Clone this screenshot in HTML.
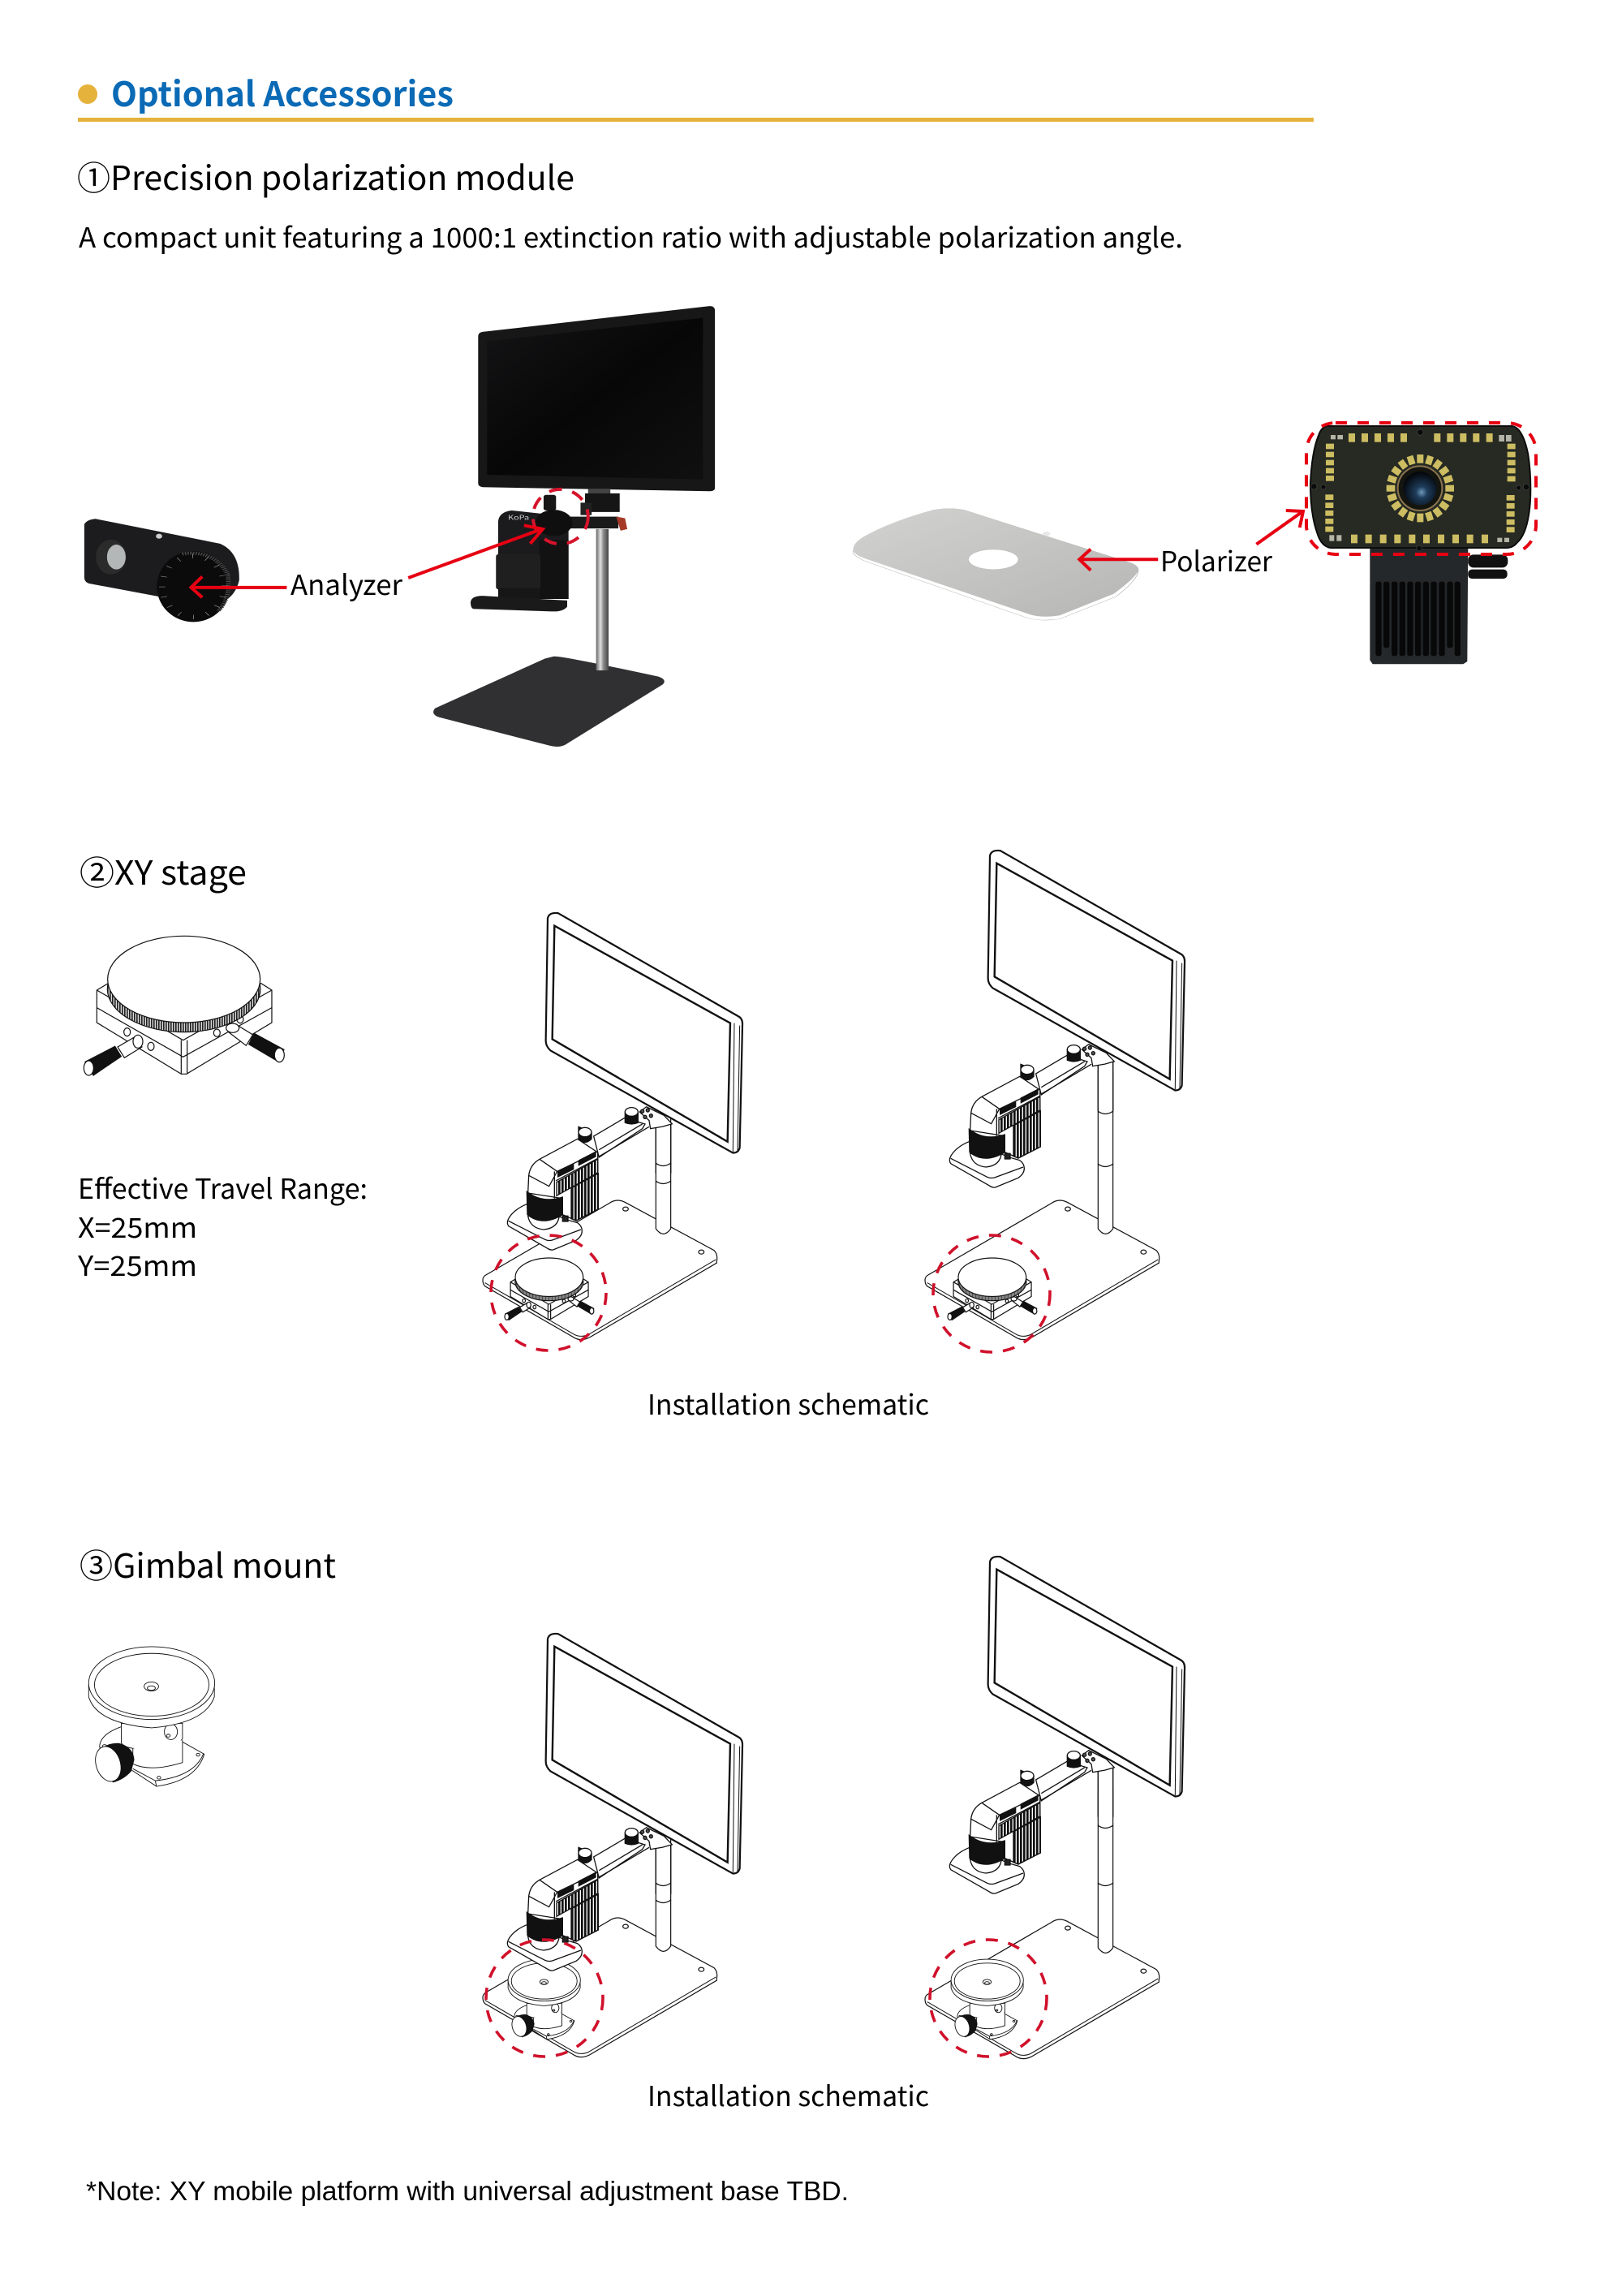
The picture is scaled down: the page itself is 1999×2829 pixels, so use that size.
<!DOCTYPE html>
<html><head><meta charset="utf-8"><title>Optional Accessories</title>
<style>
html,body{margin:0;padding:0;background:#fff;width:1999px;height:2829px;overflow:hidden}
svg{display:block}
text{font-family:"Noto Sans CJK SC","Liberation Sans",sans-serif;fill:#000}
.la *{vector-effect:non-scaling-stroke}
.r *{vector-effect:non-scaling-stroke}
</style></head><body>
<svg xmlns="http://www.w3.org/2000/svg" width="1999" height="2829" viewBox="0 0 1999 2829">
<defs>
<linearGradient id="scr" x1="0" y1="0" x2="1" y2="1"><stop offset="0" stop-color="#141416"/><stop offset=".5" stop-color="#070707"/><stop offset="1" stop-color="#101010"/></linearGradient>
<linearGradient id="pole" x1="0" y1="0" x2="1" y2="0"><stop offset="0" stop-color="#666"/><stop offset=".35" stop-color="#e0e0e0"/><stop offset=".6" stop-color="#888"/><stop offset="1" stop-color="#444"/></linearGradient>
<linearGradient id="plate" x1="0" y1="0" x2="1" y2="1"><stop offset="0" stop-color="#d2d2d0"/><stop offset="1" stop-color="#b6b6b4"/></linearGradient>
<radialGradient id="lens" cx=".55" cy=".62" r=".6"><stop offset="0" stop-color="#6e97b8"/><stop offset=".28" stop-color="#1f3d5c"/><stop offset=".8" stop-color="#0a1420"/><stop offset="1" stop-color="#05070a"/></radialGradient>
<pattern id="st" width="12" height="10" patternUnits="userSpaceOnUse"><rect width="12" height="10" fill="#fff"/><rect width="8" height="10" fill="#111"/></pattern>
<pattern id="kn" width="9" height="10" patternUnits="userSpaceOnUse"><rect width="9" height="10" fill="#ddd"/><rect width="5" height="10" fill="#222"/></pattern>

<g id="stage" class="la" stroke="#111" stroke-width="1.2" fill="#fff">
 <polygon points="178,540 220,515 785,515 825,540 825,660 510,850 490,850 178,660"/>
 <path d="M178,540 L497,725 L825,540 M178,605 L497,787 L825,605 M490,725 V850 M512,725 V850" fill="none"/>
 <ellipse cx="290" cy="695" rx="12" ry="15"/><ellipse cx="378" cy="748" rx="12" ry="15"/><ellipse cx="622" cy="698" rx="12" ry="14"/><ellipse cx="708" cy="648" rx="12" ry="14"/>
 <ellipse cx="500" cy="535" rx="283" ry="160" fill="url(#kn)"/>
 <ellipse cx="500" cy="500" rx="282" ry="160"/>
 <polygon points="255,750 320,712 345,750 280,790"/>
 <ellipse cx="330" cy="730" rx="18" ry="24"/>
 <polygon points="135,805 245,748 268,785 165,855" fill="#111"/>
 <ellipse cx="148" cy="828" rx="18" ry="27"/>
 <polygon points="665,695 690,665 755,705 730,745"/>
 <ellipse cx="680" cy="680" rx="24" ry="17"/>
 <polygon points="740,740 760,700 870,760 850,805" fill="#111"/>
 <ellipse cx="853" cy="780" rx="18" ry="26"/>
</g>

<g id="gimbal" class="la" stroke="#111" stroke-width=".9" fill="#fff">
 <g transform="translate(70,2020) scale(.4464,.3448)">
 <path d="M178,312 Q118,340 118,385 L210,470 L275,525 Q385,505 407,410 L345,365 Z"/>
 <path d="M275,525 L272,505 L210,462 M272,505 Q380,490 405,408"  fill="none"/>
 <circle cx="132" cy="382" r="6"/><circle cx="282" cy="494" r="5"/><circle cx="390" cy="412" r="5"/>
 <path d="M178,300 V370 Q190,395 260,392 Q330,388 347,355 V300 Z"/>
 <path d="M210,390 V445 Q260,475 347,440 V360" />
 <ellipse cx="315" cy="330" rx="18" ry="28"/>
 <circle cx="308" cy="344" r="5"/>
 <path d="M88,160 V205 Q110,300 262,316 Q410,300 435,205 V160 Z"/>
 <ellipse cx="262" cy="156" rx="174" ry="130"/>
 <ellipse cx="262" cy="162" rx="158" ry="112"/>
 <ellipse cx="261" cy="168" rx="20" ry="16"/><ellipse cx="261" cy="174" rx="11" ry="8"/>
 <path d="M120,395 Q140,370 172,372 Q210,385 213,430 L205,470 Q185,500 155,510 Z" fill="#111"/>
 <ellipse cx="142" cy="445" rx="34" ry="63" transform="rotate(-10 142 445)"/>
 </g>
</g>

<g id="base" class="la" stroke="#111" stroke-width="1.2" fill="#fff">
 <g transform="translate(1120,1030) scale(.3333,.4209)">
 <path d="M60,1300 Q60,1290 72,1285 L528,1075 Q555,1060 585,1072 L915,1213 Q930,1225 925,1245 L925,1250 L455,1468 Q420,1482 392,1466 L68,1318 Q60,1312 60,1300 Z"/>
 <path d="M68,1308 L395,1458 Q420,1470 450,1460 L922,1240" fill="none" stroke-width="1"/>
 <ellipse cx="588" cy="1092" rx="10" ry="6"/><ellipse cx="868" cy="1218" rx="10" ry="6"/>
 <path d="M700,689 V1150 Q728,1180 755,1150 V689"/>
 </g>
</g>

<g id="upper" class="la" stroke="#111" stroke-width="1.3" fill="#fff">
 <g transform="translate(1120,1030) scale(.3333,.4209)">
 <path d="M700,660 V805 M755,660 V805" fill="none"/>
 <rect x="700" y="660" width="55" height="145" stroke="none"/>
 <path d="M700,660 V805 M755,660 V805" fill="none"/>
 <path d="M300,58 Q305,40 338,43 L1005,345 Q1022,352 1020,372 L1010,730 Q1005,745 985,745 L310,445 Q292,432 293,415 Z" stroke-width="2.2"/>
 <path d="M325,80 L975,365 L965,712 L317,412 Z" stroke-width="2.4"/>
 <path d="M990,365 L985,742 M1010,372 L1002,742 M342,45 L1012,350" fill="none" stroke-width="1"/>
 <path d="M640,625 L665,610 L730,635 L760,660 L725,668 L680,674 L675,650 Z"/>
 <ellipse cx="650" cy="623" rx="6" ry="5" fill="#555"/><ellipse cx="670" cy="620" rx="6" ry="5" fill="#555"/><ellipse cx="660" cy="640" rx="6" ry="5" fill="#555"/><ellipse cx="682" cy="636" rx="6" ry="5" fill="#555"/>
 </g>
 <g transform="translate(1145,1243) scale(.3333)">
 <path d="M395,240 L510,172 L585,195 L575,212 L415,318 Z"/>
 <path d="M415,290 L575,195 M415,315 L600,205" fill="none"/>
 <path d="M511,150 V190 Q535,200 559,190 V150 Z" fill="#111"/><ellipse cx="535" cy="150" rx="24" ry="16"/>
 <path d="M80,545 Q100,510 150,490 L300,550 L335,560 Q352,572 352,590 Q352,610 330,625 L245,660 Q235,662 225,655 L80,572 Q72,560 80,545 Z"/>
 <path d="M80,553 L215,622 Q228,628 242,624 L348,585" fill="none"/>
 <path d="M155,385 Q160,345 195,325 L335,250 L410,300 L412,510 L330,552 L280,530 V470 L152,450 Z"/>
 <path d="M195,325 L260,370 L405,300 M155,385 L230,425 L260,370 M255,405 L410,322 M250,370 V470" fill="none"/>
 <path d="M258,410 L410,325 V375 L258,460 Z" fill="url(#st)"/>
 <path d="M312,432 L412,378 V510 L330,552 L312,545 Z" fill="url(#st)"/>
 <path d="M263,372 L320,345 V362 L263,390 Z M340,330 L402,298 V315 L340,347 Z" fill="#111"/>
 <path d="M152,535 Q160,580 210,585 Q265,580 268,530 Z"/>
 <path d="M148,445 Q205,490 280,465 V530 Q205,575 150,530 Z" fill="#111"/>
 <rect x="280" y="535" width="20" height="20" fill="#222"/>
 <path d="M339,205 V250 Q363,275 387,250 V225 Z" fill="#111"/><ellipse cx="363" cy="225" rx="24" ry="17"/>
 </g>
</g>
</defs>

<rect width="1999" height="2829" fill="#fff"/>

<circle cx="108" cy="116" r="12" fill="#e5b33c"/>
<text x="137" y="131" font-size="42" font-weight="700" style="fill:#0a6ab5" textLength="422" lengthAdjust="spacingAndGlyphs">Optional Accessories</text>
<rect x="96" y="145" width="1523" height="5" fill="#e5b33c"/>

<text x="95" y="234" font-size="41" textLength="613" lengthAdjust="spacingAndGlyphs">①Precision polarization module</text>
<text x="97" y="305" font-size="34" textLength="1361" lengthAdjust="spacingAndGlyphs">A compact unit featuring a 1000:1 extinction ratio with adjustable polarization angle.</text>

<g transform="translate(60,340) scale(.5485,.3827)">
 <path d="M105,782 L385,862 Q430,890 428,980 Q415,1060 350,1060 L90,990 Q80,985 80,970 L80,800 Q85,785 105,782 Z" fill="#1c1c1e"/>
 <ellipse cx="325" cy="1000" rx="82" ry="114" fill="#0b0b0b"/>
 <path d="M300,895 Q370,880 402,960 Q410,1040 380,1080" fill="none" stroke="#4a4a4a" stroke-width="10" stroke-dasharray="3 3"/>
 <ellipse cx="325" cy="1000" rx="70" ry="98" fill="none" stroke="#ddd" stroke-width="14" stroke-dasharray="1 32"/>
 <ellipse cx="140" cy="905" rx="34" ry="56" fill="#2b2b2b"/>
 <ellipse cx="152" cy="905" rx="21" ry="40" fill="#b4b7b7"/>
 <ellipse cx="248" cy="838" rx="7" ry="8" fill="#ccc"/>
 <path d="M1135,1225 Q1150,1222 1370,1290 Q1390,1300 1380,1315 L1160,1510 Q1145,1520 1125,1512 L875,1420 Q858,1410 868,1392 L1115,1232 Z" fill="#303032"/>
 <rect x="1230" y="815" width="28" height="455" fill="url(#pole)"/>
 <path d="M975,180 L1485,97 Q1497,97 1497,112 L1497,682 Q1497,693 1485,693 L975,680 Q965,678 965,668 L965,192 Q966,182 975,180 Z" fill="#171718"/>
 <polygon points="985,210 1470,135 1470,655 985,640" fill="url(#scr)"/>
 <rect x="1212" y="685" width="50" height="20" fill="#444"/>
 <rect x="1205" y="700" width="78" height="60" fill="#151515"/>
 <rect x="1195" y="730" width="25" height="40" fill="#222"/>
 <rect x="1165" y="775" width="115" height="38" fill="#1a1a1a"/>
 <polygon points="1275,775 1295,780 1300,815 1285,820" fill="#a53a28"/>
 <path d="M1010,790 Q1012,760 1040,755 L1168,775 V1040 H1010 Z" fill="#1b1b1d"/>
 <rect x="1102" y="850" width="66" height="190" fill="#121212"/>
 <rect x="1112" y="705" width="28" height="50" rx="6" fill="#161616"/>
 <ellipse cx="1135" cy="795" rx="42" ry="42" fill="#0f0f0f"/>
 <rect x="1005" y="895" width="100" height="115" rx="8" fill="#1f1f20"/>
 <rect x="1010" y="1005" width="90" height="32" fill="#161616"/>
 <path d="M948,1050 Q950,1030 975,1030 L1165,1045 V1065 Q1155,1082 1130,1080 L955,1072 Q948,1070 948,1050 Z" fill="#1a1a1b"/>
 <text x="1032" y="785" font-size="20" style="fill:#ccc">KoPa</text>
 <g class="r" fill="none" stroke="#e60012">
  <ellipse cx="1150" cy="775" rx="62" ry="88" stroke="#d6132c" stroke-width="4" stroke-dasharray="16 13"/>
  <path d="M535,1003 H322 M345,968 L320,1003 L345,1035" stroke-width="4"/>
  <path d="M808,972 L1108,815 M1068,803 L1110,815 L1082,862" stroke-width="4"/>
 </g>
</g>
<text x="358" y="733" font-size="34" textLength="138" lengthAdjust="spacingAndGlyphs">Analyzer</text>

<g transform="translate(1000,480) scale(.606,.3333)">
 <path d="M85,600 Q85,615 110,635 L440,845 Q470,858 505,848 L620,765 Q665,700 665,668 Q665,650 648,640 L310,445 Q280,435 250,445 Q165,485 110,545 Q85,575 85,600 Z" fill="#fff" stroke="#999" stroke-width="1"/>
 <path d="M85,590 Q85,610 110,625 L445,832 Q470,845 505,835 L615,755 Q660,695 665,668 Q665,650 648,640 L310,445 Q280,435 250,445 Q165,485 110,540 Q85,565 85,590 Z" fill="url(#plate)"/>
 <ellipse cx="370" cy="628" rx="51" ry="37" fill="#fff" stroke="#aaa"/>
 <circle cx="478" cy="533" r="8" fill="#e8e8e8"/>
 <g class="r" fill="none" stroke="#e60012" stroke-width="4">
  <path d="M705,628 H548 M568,590 L545,628 L568,668"/>
  <path d="M905,572 L998,452 M965,447 L1000,450 L993,510"/>
 </g>
</g>
<text x="1430" y="704" font-size="34" textLength="138" lengthAdjust="spacingAndGlyphs">Polarizer</text>

<g transform="translate(1600,500) scale(.3333)">
 <rect x="628" y="550" width="147" height="48" rx="20" fill="#111"/>
 <rect x="628" y="605" width="145" height="34" rx="14" fill="#111"/>
 <polygon points="265,525 628,525 625,945 610,955 275,955 265,940" fill="#25282b"/>
 <g fill="#080808">
  <rect x="286" y="650" width="22" height="275" rx="8"/><rect x="315" y="650" width="22" height="245" rx="8"/><rect x="345" y="650" width="22" height="275" rx="8"/><rect x="374" y="650" width="22" height="275" rx="8"/><rect x="403" y="650" width="22" height="275" rx="8"/><rect x="432" y="650" width="22" height="275" rx="8"/><rect x="461" y="650" width="22" height="275" rx="8"/><rect x="490" y="650" width="22" height="275" rx="8"/><rect x="520" y="650" width="22" height="275" rx="8"/><rect x="550" y="650" width="22" height="245" rx="8"/><rect x="578" y="650" width="22" height="275" rx="8"/>
 </g>
 <path d="M105,75 L790,75 Q830,80 850,180 Q862,260 858,350 Q850,470 810,505 Q795,525 770,525 L120,525 Q85,520 70,470 Q45,400 45,290 Q50,170 75,110 Q85,80 105,75 Z" fill="#272a23" stroke="#0c0c0c" stroke-width="6"/>
 <g fill="#cdbd62">
  <rect x="186" y="102" width="24" height="32"/><rect x="234" y="102" width="24" height="32"/><rect x="282" y="102" width="24" height="32"/><rect x="330" y="102" width="24" height="32"/><rect x="378" y="102" width="24" height="32"/>
  <rect x="502" y="102" width="24" height="32"/><rect x="550" y="102" width="24" height="32"/><rect x="598" y="102" width="24" height="32"/><rect x="646" y="102" width="24" height="32"/><rect x="695" y="102" width="24" height="32"/>
  <rect x="195" y="476" width="24" height="32"/><rect x="248" y="476" width="24" height="32"/><rect x="302" y="476" width="24" height="32"/><rect x="355" y="476" width="24" height="32"/><rect x="409" y="476" width="24" height="32"/><rect x="462" y="476" width="24" height="32"/><rect x="516" y="476" width="24" height="32"/><rect x="570" y="476" width="24" height="32"/><rect x="623" y="476" width="24" height="32"/><rect x="678" y="476" width="24" height="32"/>
  <rect x="102" y="140" width="30" height="20"/><rect x="102" y="170" width="30" height="20"/><rect x="102" y="200" width="30" height="20"/><rect x="102" y="230" width="30" height="20"/><rect x="102" y="258" width="30" height="20"/>
  <rect x="100" y="328" width="30" height="20"/><rect x="100" y="358" width="30" height="20"/><rect x="100" y="387" width="30" height="20"/><rect x="100" y="417" width="30" height="20"/><rect x="100" y="446" width="30" height="20"/>
  <rect x="773" y="140" width="30" height="20"/><rect x="773" y="170" width="30" height="20"/><rect x="773" y="200" width="30" height="20"/><rect x="773" y="230" width="30" height="20"/><rect x="773" y="260" width="30" height="20"/>
  <rect x="770" y="330" width="30" height="20"/><rect x="770" y="360" width="30" height="20"/><rect x="770" y="390" width="30" height="20"/><rect x="770" y="420" width="30" height="20"/><rect x="770" y="448" width="30" height="20"/>
  <rect x="439" y="180" width="24" height="32" transform="rotate(0 451 305)"/><rect x="439" y="180" width="24" height="32" transform="rotate(18 451 305)"/><rect x="439" y="180" width="24" height="32" transform="rotate(36 451 305)"/><rect x="439" y="180" width="24" height="32" transform="rotate(54 451 305)"/><rect x="439" y="180" width="24" height="32" transform="rotate(72 451 305)"/><rect x="439" y="180" width="24" height="32" transform="rotate(90 451 305)"/><rect x="439" y="180" width="24" height="32" transform="rotate(108 451 305)"/><rect x="439" y="180" width="24" height="32" transform="rotate(126 451 305)"/><rect x="439" y="180" width="24" height="32" transform="rotate(144 451 305)"/><rect x="439" y="180" width="24" height="32" transform="rotate(162 451 305)"/><rect x="439" y="180" width="24" height="32" transform="rotate(180 451 305)"/><rect x="439" y="180" width="24" height="32" transform="rotate(198 451 305)"/><rect x="439" y="180" width="24" height="32" transform="rotate(216 451 305)"/><rect x="439" y="180" width="24" height="32" transform="rotate(234 451 305)"/><rect x="439" y="180" width="24" height="32" transform="rotate(252 451 305)"/><rect x="439" y="180" width="24" height="32" transform="rotate(270 451 305)"/><rect x="439" y="180" width="24" height="32" transform="rotate(288 451 305)"/><rect x="439" y="180" width="24" height="32" transform="rotate(306 451 305)"/><rect x="439" y="180" width="24" height="32" transform="rotate(324 451 305)"/><rect x="439" y="180" width="24" height="32" transform="rotate(342 451 305)"/>
 </g>
 <g fill="#b5b5a8"><rect x="120" y="108" width="18" height="16"/><rect x="145" y="108" width="20" height="16"/><rect x="742" y="108" width="20" height="24"/><rect x="768" y="108" width="20" height="24"/><rect x="115" y="478" width="18" height="22"/><rect x="142" y="478" width="18" height="22"/><rect x="736" y="488" width="18" height="16"/><rect x="762" y="488" width="18" height="16"/></g>
 <g fill="#0a0a0a" stroke="#444" stroke-width="2"><circle cx="58" cy="298" r="11"/><circle cx="93" cy="300" r="9"/><circle cx="843" cy="300" r="11"/><circle cx="815" cy="303" r="9"/><circle cx="451" cy="98" r="11"/><circle cx="447" cy="527" r="10"/></g>
 <circle cx="450" cy="305" r="82" fill="#14150f" stroke="#8a7450" stroke-width="6"/>
 <circle cx="450" cy="305" r="62" fill="url(#lens)"/>
</g>
<rect class="r" x="1610" y="521" width="283" height="162" rx="36" fill="none" stroke="#e60012" stroke-width="4" stroke-dasharray="14 13"/>

<text x="98" y="1090" font-size="41" textLength="206" lengthAdjust="spacingAndGlyphs">②XY stage</text>
<use href="#stage" transform="translate(60,1040) scale(.3333)"/>
<text x="96" y="1477" font-size="34" textLength="357" lengthAdjust="spacingAndGlyphs">Effective Travel Range:</text>
<text x="96" y="1525" font-size="34" textLength="147" lengthAdjust="spacingAndGlyphs">X=25mm</text>
<text x="96" y="1572" font-size="34" textLength="147" lengthAdjust="spacingAndGlyphs">Y=25mm</text>

<use href="#base" transform="translate(-545,0)"/>
<use href="#stage" transform="translate(602.7,1499.6) scale(.1483)"/>
<use href="#upper" transform="translate(-545,77)"/>
<path d="M808,1433 Q817,1440 827,1433 M808,1455 Q817,1462 827,1455" fill="none" stroke="#111" stroke-width="1.3"/>
<circle cx="676" cy="1593" r="71" fill="none" stroke="#d0112b" stroke-width="3.6" stroke-dasharray="15 13"/>

<use href="#base"/>
<use href="#stage" transform="translate(1148.7,1499.6) scale(.1483)"/>
<use href="#upper"/>
<path d="M1353,1369 Q1362,1376 1372,1369 M1353,1434 Q1362,1441 1372,1434" fill="none" stroke="#111" stroke-width="1.3"/>
<circle cx="1222" cy="1594" r="72" fill="none" stroke="#d0112b" stroke-width="3.6" stroke-dasharray="15 13"/>

<text x="798" y="1743" font-size="34" textLength="347" lengthAdjust="spacingAndGlyphs">Installation schematic</text>

<text x="98" y="1944" font-size="41" textLength="316" lengthAdjust="spacingAndGlyphs">③Gimbal mount</text>
<use href="#gimbal"/>

<use href="#base" transform="translate(-545,884)"/>
<use href="#gimbal" transform="translate(563.4,1249.4) scale(.574)"/>
<use href="#upper" transform="translate(-545,965)"/>
<path d="M808,2320 Q817,2327 827,2320 M808,2341 Q817,2348 827,2341" fill="none" stroke="#111" stroke-width="1.3"/>
<circle cx="671" cy="2462" r="72" fill="none" stroke="#d0112b" stroke-width="3.6" stroke-dasharray="15 13"/>

<use href="#base" transform="translate(0,886)"/>
<use href="#gimbal" transform="translate(1109.4,1249.4) scale(.574)"/>
<use href="#upper" transform="translate(0,870)"/>
<path d="M1353,2249 Q1362,2256 1372,2249 M1353,2320 Q1362,2327 1372,2320" fill="none" stroke="#111" stroke-width="1.3"/>
<circle cx="1218" cy="2462" r="72" fill="none" stroke="#d0112b" stroke-width="3.6" stroke-dasharray="15 13"/>

<text x="798" y="2595" font-size="34" textLength="347" lengthAdjust="spacingAndGlyphs">Installation schematic</text>

<text x="106" y="2711" font-size="33" textLength="940" lengthAdjust="spacingAndGlyphs" style="font-family:'Liberation Sans',sans-serif">*Note: XY mobile platform with universal adjustment base TBD.</text>
</svg>
</body></html>
